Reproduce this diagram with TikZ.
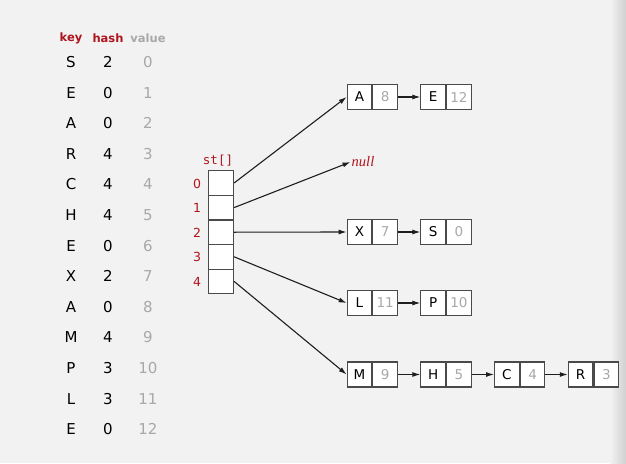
\documentclass[tikz,border=0pt]{standalone}
\usepackage{fontspec}
\setmainfont{DejaVu Sans}
\newfontfamily\stmono{DejaVu Sans Mono}
\newfontfamily\nullserif{Liberation Serif}
\usetikzlibrary{arrows.meta}

\definecolor{bg}{HTML}{F2F2F2}
\definecolor{edgegray}{HTML}{D0D0D0}
\definecolor{hdrred}{HTML}{B0141E}
\definecolor{valgray}{HTML}{A8A8A8}
\definecolor{boxline}{HTML}{4A4A4A}
\definecolor{linkline}{HTML}{1E1E1E}

\tikzset{
  hdr/.style={font=\fontsize{11.5}{13}\selectfont\bfseries, inner sep=0pt},
  tkey/.style={font=\fontsize{15}{17}\selectfont, text=black, inner sep=0pt},
  tval/.style={font=\fontsize{15}{17}\selectfont, text=valgray, inner sep=0pt},
  idx/.style={font=\fontsize{12.5}{14}\selectfont, text=hdrred, inner sep=0pt},
  arrcell/.style={draw=boxline, line width=1.2pt, fill=white,
    minimum width=25pt, minimum height=24.6pt, inner sep=0pt},
  kcell/.style={draw=boxline, line width=1.1pt, fill=white,
    minimum width=24.6pt, minimum height=25pt, inner sep=0pt,
    font=\fontsize{13.5}{15}\selectfont},
  vcell/.style={kcell, anchor=west, text=valgray},
  link/.style={draw=linkline, line width=1.1pt,
    -{Latex[length=8pt,width=5pt]}},
}

% one list entry: key cell and value cell side by side
\newcommand{\listnode}[5]{%
  \node[kcell] (#1k) at (#2,#3) {#4};
  \node[vcell] (#1v) at (#1k.east) {#5};
}

\begin{document}
\begin{tikzpicture}[x=1pt,y=-1pt]
  \useasboundingbox (0,0) rectangle (626,463);
  \fill[bg] (0,0) rectangle (626,463);
  \shade[left color=bg, right color=edgegray] (610,0) rectangle (626,463);

  % table of keys, hash values and insertion order
  \node[hdr, text=hdrred] (hkey)  at (71,38)  {key};
  \node[hdr, text=hdrred] (hhash) at (108,38) {hash};
  \node[hdr, text=valgray] (hval) at (148,38) {value};
  \foreach \k/\h [count=\i from 0] in
      {S/2,E/0,A/0,R/4,C/4,H/4,E/0,X/2,A/0,M/4,P/3,L/3,E/0} {
    \node[tkey] (k\i) at (71,{62+30.6*\i}) {\k};
    \node[tkey] (h\i) at (108,{62+30.6*\i}) {\h};
    \node[tval] (v\i) at (148,{62+30.6*\i}) {\i};
  }

  % the array of chain heads
  \node[font=\stmono\fontsize{12.5}{14}\selectfont, text=hdrred, inner sep=0pt]
    (stlabel) at (218,161) {st[]};
  \foreach \j in {0,...,4} {
    \node[arrcell] (st\j) at (221,{183+24.6*\j}) {};
    \node[idx] (i\j) at (197,{183.5+24.6*\j}) {\j};
  }

  % the chains
  \listnode{A8}{359.5}{97}{A}{8}
  \listnode{E12}{433.2}{97}{E}{12}
  \node[font=\nullserif\itshape\fontsize{14.5}{16}\selectfont, text=hdrred,
    inner sep=1pt] (nullt) at (363,162) {null};
  \listnode{X7}{359.5}{232}{X}{7}
  \listnode{S0}{433.2}{232}{S}{0}
  \listnode{L11}{359.5}{303}{L}{11}
  \listnode{P10}{433.2}{303}{P}{10}
  \listnode{M9}{359.5}{374.5}{M}{9}
  \listnode{H5}{433.2}{374.5}{H}{5}
  \listnode{C4}{506.9}{374.5}{C}{4}
  \listnode{R3}{580.6}{374.5}{R}{3}

  % links from the array to the chain heads
  \draw[link] (st0.east) -- (A8k.west);
  \draw[link] (st1.east) -- (nullt.west);
  \draw[link] (st2.east) -- (X7k.west);
  \draw[link] (st3.east) -- (L11k.west);
  \draw[link] (st4.east) -- (M9k.west);

  % links along each chain
  \draw[link] (A8v.east) -- (E12k.west);
  \draw[link] (X7v.east) -- (S0k.west);
  \draw[link] (L11v.east) -- (P10k.west);
  \draw[link] (M9v.east) -- (H5k.west);
  \draw[link] (H5v.east) -- (C4k.west);
  \draw[link] (C4v.east) -- (R3k.west);
\end{tikzpicture}
\end{document}
